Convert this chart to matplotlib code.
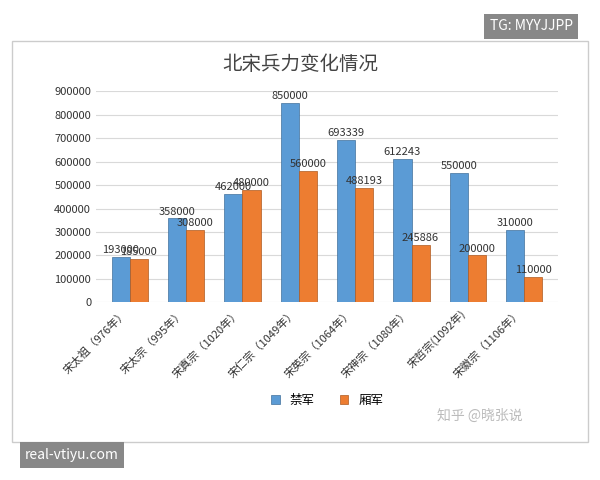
import matplotlib.pyplot as plt
import numpy as np

plt.rcParams['font.family'] = ['Noto Sans CJK SC', 'DejaVu Sans']

emperors = ['宋太祖（976年）', '宋太宗（995年）', '宋真宗（1020年）', '宋仁宗（1049年）',
            '宋英宗（1064年）', '宋神宗（1080年）', '宋哲宗(1092年)', '宋徽宗（1106年）']
jinjun = [193000, 358000, 462000, 850000, 693339, 612243, 550000, 310000]
xiangjun = [185000, 308000, 480000, 560000, 488193, 245886, 200000, 110000]

blue = '#5b9bd5'
orange = '#ed7d31'

fig = plt.figure(figsize=(6, 4.8), dpi=100)
fig.patches.append(plt.Rectangle((0.02, 0.08), 0.96, 0.835, transform=fig.transFigure,
                                 fill=False, edgecolor='#cccccc', linewidth=1))
ax = fig.add_axes([0.16, 0.37, 0.77, 0.44])

x = np.arange(len(emperors))
w = 0.32
ax.bar(x - w / 2, jinjun, w, color=blue, edgecolor='#41719c', linewidth=0.5, label='禁军', zorder=3)
ax.bar(x + w / 2, xiangjun, w, color=orange, edgecolor='#ae5a21', linewidth=0.5, label='厢军', zorder=3)
for i in range(len(x)):
    ax.text(x[i] - w / 2, jinjun[i] + 8000, str(jinjun[i]), ha='center', va='bottom', fontsize=8, color='#333333', zorder=4)
    ax.text(x[i] + w / 2, xiangjun[i] + 8000, str(xiangjun[i]), ha='center', va='bottom', fontsize=8, color='#333333', zorder=4)

ax.set_ylim(0, 900000)
ax.set_yticks(range(0, 900001, 100000))
ax.tick_params(axis='y', labelsize=8, length=0, colors='#333333')
ax.set_xticks(x)
ax.set_xticklabels(emperors, rotation=45, ha='right', fontsize=8, color='#333333')
ax.tick_params(axis='x', length=0)
ax.set_xlim(-0.6, len(x) - 0.4)
ax.grid(axis='y', color='#d9d9d9', linewidth=0.8, zorder=0)
for s in ax.spines.values():
    s.set_visible(False)

fig.text(0.5, 0.855, '北宋兵力变化情况', ha='center', fontsize=14, color='#444444')
ax.legend(loc='upper center', bbox_to_anchor=(0.5, -0.38), ncol=2, frameon=False, fontsize=9,
          handlelength=0.7, handleheight=0.7)

fig.text(0.8, 0.125, '知乎 @晓张说', fontsize=10, color='#bbbbbb', ha='center')
fig.text(0.885, 0.945, 'TG: MYYJJPP', fontsize=10, color='white', ha='center', va='center',
         bbox=dict(boxstyle='square,pad=0.4', facecolor='#888888', edgecolor='none'))
fig.text(0.12, 0.052, 'real-vtiyu.com', fontsize=10, color='white', ha='center', va='center',
         bbox=dict(boxstyle='square,pad=0.4', facecolor='#888888', edgecolor='none'))

fig.savefig('out.png', dpi=100)
